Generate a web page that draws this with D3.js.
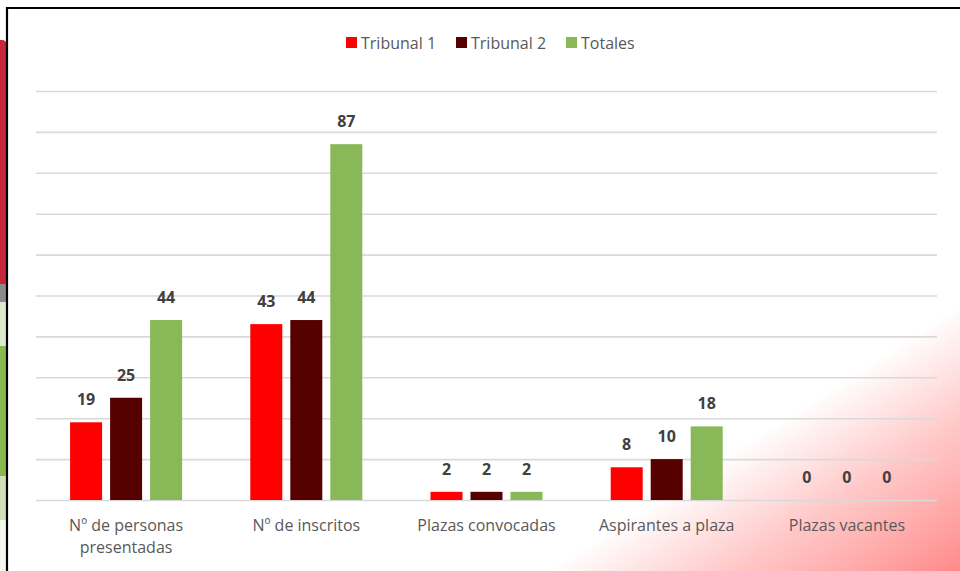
<!DOCTYPE html>
<html>
<head>
<meta charset="utf-8">
<script src="https://cdn.jsdelivr.net/npm/d3@7"></script>
<style>
  html, body { margin: 0; padding: 0; background: #ffffff; }
  svg { display: block; }
</style>
</head>
<body>
<svg id="chart" width="960" height="571"></svg>
<script>
// Chart data
const categories = [["Nº de personas", "presentadas"], ["Nº de inscritos"], ["Plazas convocadas"], ["Aspirantes a plaza"], ["Plazas vacantes"]];
const seriesNames = ["Tribunal 1", "Tribunal 2", "Totales"];
const tribunal1 = [19, 43, 2, 8, 0];
const tribunal2 = [25, 44, 2, 10, 0];
const totales = [44, 87, 2, 18, 0];
const gridTicks = [0, 10, 20, 30, 40, 50, 60, 70, 80, 90, 100];
const seriesColors = ["#ff0000", "#560000", "#88b858"];

const seriesValues = [tribunal1, tribunal2, totales];
const W = 960, H = 571;
const FONT = "'Open Sans', 'Noto Sans', sans-serif";
const svg = d3.select("#chart");
const defs = svg.append("defs");

// Decorative strip to the left of the frame
svg.append("rect").attr("x", -4).attr("y", 40).attr("width", 11).attr("height", 248).attr("rx", 5).attr("fill", "#c8243c");
svg.append("rect").attr("x", 0).attr("y", 284).attr("width", 7).attr("height", 18).attr("fill", "#8a8a8a");
svg.append("rect").attr("x", 0).attr("y", 302).attr("width", 7).attr("height", 44).attr("fill", "#dfe9cf");
svg.append("rect").attr("x", 0).attr("y", 346).attr("width", 7).attr("height", 130).attr("fill", "#8ab850");
svg.append("rect").attr("x", 0).attr("y", 476).attr("width", 7).attr("height", 44).attr("fill", "#cfe0b6");
svg.append("rect").attr("x", 0).attr("y", 520).attr("width", 7).attr("height", 51).attr("fill", "#f4f8ee");

// Pink wash in the lower right corner
const grad = defs.append("linearGradient").attr("id", "wash")
  .attr("gradientUnits", "userSpaceOnUse")
  .attr("x1", 758).attr("y1", 434).attr("x2", 879).attr("y2", 622);
grad.append("stop").attr("offset", 0).attr("stop-color", "#ff9a9a").attr("stop-opacity", 0);
grad.append("stop").attr("offset", 0.45).attr("stop-color", "#ff9a9a").attr("stop-opacity", 0.55);
grad.append("stop").attr("offset", 1).attr("stop-color", "#ff8a8a").attr("stop-opacity", 1);
svg.append("rect").attr("x", 8).attr("y", 9).attr("width", W - 8).attr("height", H - 9).attr("fill", "url(#wash)");

// Frame
svg.append("path").attr("d", `M7,${H} L7,8 L${W},8`).attr("fill", "none").attr("stroke", "#000").attr("stroke-width", 2.2);

// Scales
const plot = { left: 36, right: 937, top: 91, bottom: 500 };
const y = d3.scaleLinear().domain([0, 100]).range([plot.bottom, plot.top]);
const x0 = d3.scaleBand().domain(d3.range(categories.length)).range([plot.left, plot.right]).padding(0);
const x1 = d3.scaleBand().domain(d3.range(seriesNames.length)).range([-60, 60]).paddingInner(0.2).paddingOuter(0.1);

// Gridlines
const yAxis = d3.axisLeft(y).tickValues(gridTicks).tickSize(-(plot.right - plot.left)).tickFormat("");
const gAxis = svg.append("g").attr("transform", `translate(${plot.left},0)`).call(yAxis);
gAxis.select(".domain").remove();
gAxis.selectAll(".tick line").attr("stroke", "#d9d9d9").attr("stroke-width", 1.6);

// Bars and value labels
const groups = svg.append("g").selectAll("g").data(categories).join("g")
  .attr("transform", (d, i) => `translate(${x0(i) + x0.bandwidth() / 2},0)`);

groups.each(function (cat, ci) {
  const g = d3.select(this);
  seriesValues.forEach((vals, si) => {
    const v = vals[ci];
    g.append("rect")
      .attr("x", x1(si)).attr("width", x1.bandwidth())
      .attr("y", y(v)).attr("height", y(0) - y(v))
      .attr("fill", seriesColors[si]);
    g.append("text")
      .attr("x", x1(si) + x1.bandwidth() / 2)
      .attr("y", y(v) - 17)
      .attr("text-anchor", "middle")
      .attr("font-family", FONT)
      .attr("font-weight", "bold").attr("font-size", 16)
      .attr("fill", "#404040")
      .text(v);
  });
});

// Category labels
const xAxis = d3.axisBottom(x0).tickSize(0).tickFormat("");
const gx = svg.append("g").attr("transform", `translate(0,${plot.bottom})`).call(xAxis);
gx.select(".domain").remove();
gx.selectAll(".tick").each(function (i) {
  const t = d3.select(this).append("text")
    .attr("text-anchor", "middle")
    .attr("font-family", FONT)
    .attr("font-size", 16).attr("fill", "#595959");
  categories[i].forEach((line, li) => {
    t.append("tspan").attr("x", 0).attr("y", 31 + li * 22).text(line);
  });
});

// Legend
const legendX = [346, 456, 566];
const legend = svg.append("g");
seriesNames.forEach((name, i) => {
  const lg = legend.append("g").attr("transform", `translate(${legendX[i]},37)`);
  lg.append("rect").attr("width", 11).attr("height", 11).attr("fill", seriesColors[i]);
  lg.append("text").attr("x", 15).attr("y", 12)
    .attr("font-family", FONT)
    .attr("font-size", 16).attr("fill", "#595959").text(name);
});
</script>
</body>
</html>
